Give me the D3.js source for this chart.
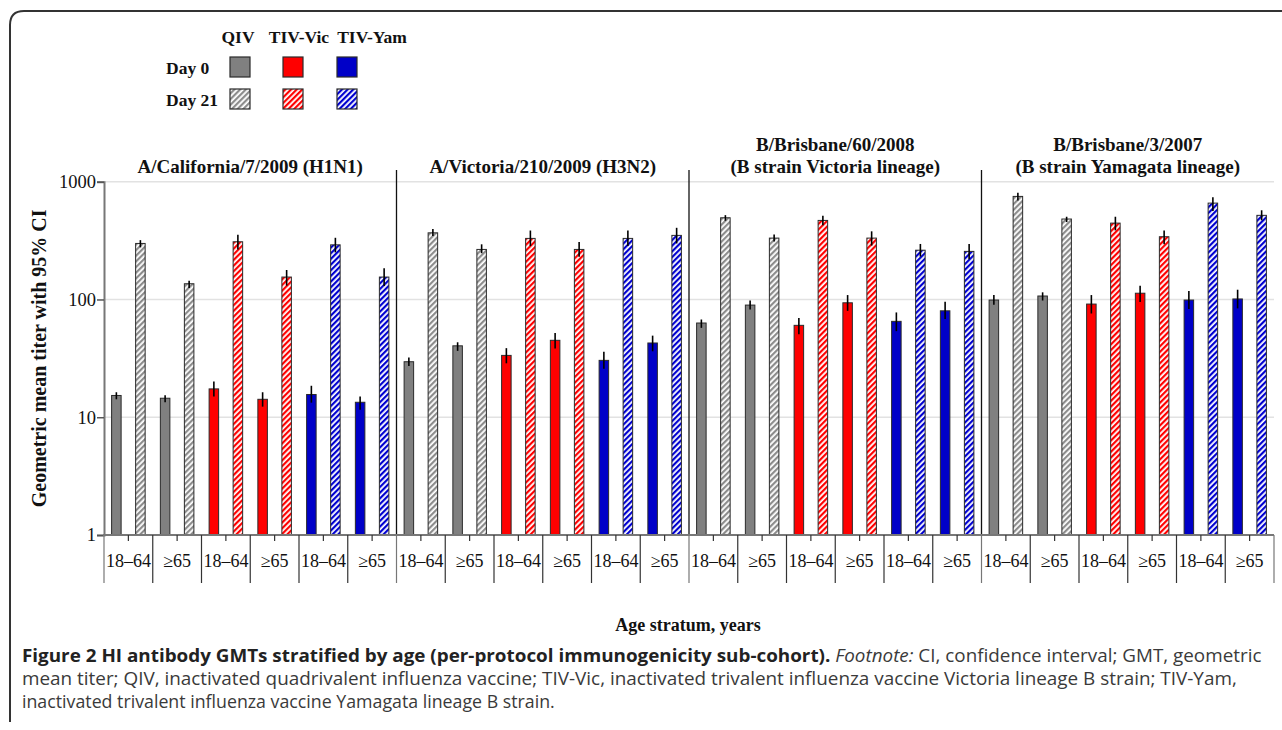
<!DOCTYPE html>
<html>
<head>
<meta charset="utf-8">
<script src="https://cdn.jsdelivr.net/npm/d3@7"></script>
<style>
  html, body { margin: 0; padding: 0; background: #fff; }
  svg { display: block; }
</style>
</head>
<body>
<svg id="chart" width="1282" height="730"></svg>
<script>
// ---------------- DATA ----------------
const strains = [
  ["A/California/7/2009 (H1N1)"],
  ["A/Victoria/210/2009 (H3N2)"],
  ["B/Brisbane/60/2008", "(B strain Victoria lineage)"],
  ["B/Brisbane/3/2007", "(B strain Yamagata lineage)"]
];
const vaccines = ["QIV", "TIV-Vic", "TIV-Yam"];
const ages = ["18\u201364", "\u226565"];
const days = ["Day 0", "Day 21"];
const yTicks = [1, 10, 100, 1000];

// order inside each strain: QIV 18-64, QIV >=65, Vic 18-64, Vic >=65, Yam 18-64, Yam >=65
const day0GMT = [
  [15.3, 14.5, 17.4, 14.2, 15.6, 13.4],
  [29.6, 40.4, 33.5, 45.0, 30.4, 42.7],
  [63.1, 89.6, 60.3, 93.7, 65.2, 80.1],
  [98.9, 107, 91.4, 113, 98.9, 101]
];
const day0Lo = [
  [14.2, 13.4, 15.0, 12.3, 13.3, 11.6],
  [27.2, 36.6, 28.7, 38.3, 25.8, 36.3],
  [57.4, 82, 50.6, 80, 53.8, 68.1],
  [90, 98, 76, 95, 83, 84]
];
const day0Hi = [
  [16.3, 15.4, 20.1, 16.3, 18.5, 15.0],
  [32.2, 43.3, 38.6, 51.9, 35.9, 49.3],
  [67.6, 98, 69.6, 109, 77.6, 95.5],
  [109, 115, 109, 131, 118, 121]
];
const day21GMT = [
  [299, 136, 309, 155, 291, 155],
  [368, 266, 330, 266, 330, 350],
  [494, 332, 469, 332, 262, 256],
  [750, 482, 445, 341, 658, 518]
];
const day21Lo = [
  [277, 125, 265, 131, 251, 130],
  [346, 247, 284, 231, 284, 299],
  [466, 310, 426, 287, 231, 220],
  [691, 454, 386, 294, 564, 470]
];
const day21Hi = [
  [319, 144, 354, 178, 334, 184],
  [396, 294, 385, 307, 385, 406],
  [520, 356, 515, 379, 296, 296],
  [804, 504, 504, 386, 737, 572]
];

const captionLines = [
  [{t: "Figure 2", w: "bold"}, {t: " HI antibody GMTs stratified by age (per-protocol immunogenicity sub-cohort).", w: "bold"}, {t: " Footnote:", s: "italic"}, {t: " CI, confidence interval; GMT, geometric"}],
  [{t: "mean titer; QIV, inactivated quadrivalent influenza vaccine; TIV-Vic, inactivated trivalent influenza vaccine Victoria lineage B strain; TIV-Yam,"}],
  [{t: "inactivated trivalent influenza vaccine Yamagata lineage B strain."}]
];

// ---------------- STYLE ----------------
const fillColors = {"QIV": "#808080", "TIV-Vic": "#ff0000", "TIV-Yam": "#0000c8"};
const hatchColors = {"QIV": "#8c8c8c", "TIV-Vic": "#ff0000", "TIV-Yam": "#0000d0"};
const serif = "'Liberation Serif', 'Times New Roman', serif";
const sans = "'Open Sans', 'Noto Sans', sans-serif";

const svg = d3.select("#chart");

// patterns
const defs = svg.append("defs");
vaccines.forEach((v, i) => {
  const p = defs.append("pattern")
    .attr("id", "hatch" + i)
    .attr("patternUnits", "userSpaceOnUse")
    .attr("width", 4).attr("height", 4)
    .attr("patternTransform", "rotate(45)");
  p.append("rect").attr("width", 4).attr("height", 4).attr("fill", "#fff");
  p.append("rect").attr("width", 2.2).attr("height", 4).attr("fill", hatchColors[v]);
});

// frame
svg.append("path")
  .attr("d", "M10,722 L10,25 Q10,11 24,11 L1282,11")
  .attr("fill", "none").attr("stroke", "#333").attr("stroke-width", 2);

// scales
const x0 = 104, x1 = 1274;
const yBottom = 535, yTop = 181.7;
const y = d3.scaleLog().domain([1, 1000]).range([yBottom, yTop]);
const xPanel = d3.scaleBand().domain(d3.range(strains.length)).range([x0, x1]);
const groupKeys = [];
vaccines.forEach(v => ages.forEach(a => groupKeys.push(v + "|" + a)));
const xGroup = d3.scaleBand().domain(d3.range(groupKeys.length)).range([0, xPanel.bandwidth()]);
const xBar = d3.scaleBand().domain([0, 1]).range([0, xGroup.bandwidth()])
  .paddingInner(0.604).paddingOuter(0.317);

// gridlines
svg.append("g").selectAll("line").data(yTicks.slice(1)).join("line")
  .attr("x1", x0).attr("x2", x1)
  .attr("y1", d => y(d)).attr("y2", d => y(d))
  .attr("stroke", "#e2e2e2").attr("stroke-width", 1.5);

// y axis
const yAxis = d3.axisLeft(y).tickValues(yTicks).tickFormat(d3.format("d")).tickSize(7).tickPadding(1);
const gy = svg.append("g").attr("transform", `translate(${x0},0)`).call(yAxis);
gy.select(".domain").attr("stroke", "#777").attr("stroke-width", 2);
gy.selectAll(".tick line").attr("stroke", "#555").attr("stroke-width", 1.5);
gy.selectAll(".tick text").attr("font-family", serif).attr("font-size", 18.5).attr("fill", "#111");

// y title
svg.append("text")
  .attr("transform", `translate(46,${(yBottom + yTop) / 2 + 0}) rotate(-90)`)
  .attr("text-anchor", "middle")
  .attr("font-family", serif).attr("font-weight", "bold").attr("font-size", 20)
  .attr("fill", "#111")
  .text("Geometric mean titer with 95% CI");

// panel separators
svg.append("g").selectAll("line").data(d3.range(1, strains.length)).join("line")
  .attr("x1", d => xPanel(d)).attr("x2", d => xPanel(d))
  .attr("y1", 170).attr("y2", yBottom)
  .attr("stroke", "#111").attr("stroke-width", 1.3);

// panel titles
strains.forEach((lines, pi) => {
  const cx = xPanel(pi) + xPanel.bandwidth() / 2;
  const t = svg.append("text")
    .attr("text-anchor", "middle")
    .attr("font-family", serif).attr("font-weight", "bold").attr("font-size", 19)
    .attr("fill", "#111");
  const base = 173 - (lines.length - 1) * 22;
  lines.forEach((l, li) => {
    t.append("tspan").attr("x", cx).attr("y", base + li * 22).text(l);
  });
});

// bars
const barData = [];
strains.forEach((s, pi) => {
  groupKeys.forEach((gk, gi) => {
    const vac = gk.split("|")[0];
    const vi = vaccines.indexOf(vac);
    barData.push({pi, gi, day: 0, vac, vi, v: day0GMT[pi][gi], lo: day0Lo[pi][gi], hi: day0Hi[pi][gi]});
    barData.push({pi, gi, day: 1, vac, vi, v: day21GMT[pi][gi], lo: day21Lo[pi][gi], hi: day21Hi[pi][gi]});
  });
});
const bx = d => xPanel(d.pi) + xGroup(d.gi) + xBar(d.day);

svg.append("g").selectAll("rect").data(barData).join("rect")
  .attr("x", d => bx(d))
  .attr("width", xBar.bandwidth())
  .attr("y", d => y(d.v))
  .attr("height", d => yBottom - y(d.v))
  .attr("fill", d => d.day === 0 ? fillColors[d.vac] : `url(#hatch${d.vi})`)
  .attr("stroke", "#2a2a2a").attr("stroke-width", 1);

// error bars
svg.append("g").selectAll("line").data(barData).join("line")
  .attr("x1", d => bx(d) + xBar.bandwidth() / 2)
  .attr("x2", d => bx(d) + xBar.bandwidth() / 2)
  .attr("y1", d => y(d.hi)).attr("y2", d => y(d.lo))
  .attr("stroke", "#000").attr("stroke-width", 1.6);

// bottom axis line
svg.append("line").attr("x1", x0 - 1).attr("x2", x1).attr("y1", yBottom).attr("y2", yBottom)
  .attr("stroke", "#777").attr("stroke-width", 2);

// group separators and mid ticks, labels
const cells = [];
strains.forEach((s, pi) => groupKeys.forEach((gk, gi) => cells.push({pi, gi, age: gk.split("|")[1]})));
const gxs = d => xPanel(d.pi) + xGroup(d.gi);
svg.append("g").selectAll("line").data(cells).join("line")
  .attr("x1", d => gxs(d)).attr("x2", d => gxs(d))
  .attr("y1", yBottom).attr("y2", 583)
  .attr("stroke", d => d.gi === 0 ? "#777" : "#333").attr("stroke-width", 1.2);
svg.append("line").attr("x1", x1).attr("x2", x1).attr("y1", yBottom).attr("y2", 583)
  .attr("stroke", "#777").attr("stroke-width", 1.2);
svg.append("g").selectAll("line").data(cells).join("line")
  .attr("x1", d => gxs(d) + xGroup.bandwidth() / 2).attr("x2", d => gxs(d) + xGroup.bandwidth() / 2)
  .attr("y1", yBottom).attr("y2", yBottom + 6)
  .attr("stroke", "#333").attr("stroke-width", 1.2);
svg.append("g").selectAll("text").data(cells).join("text")
  .attr("x", d => gxs(d) + xGroup.bandwidth() / 2)
  .attr("y", 567)
  .attr("text-anchor", "middle")
  .attr("font-family", serif).attr("font-size", 18).attr("fill", "#111")
  .text(d => d.age);

// x title
svg.append("text").attr("x", 688).attr("y", 631).attr("text-anchor", "middle")
  .attr("font-family", serif).attr("font-weight", "bold").attr("font-size", 18).attr("fill", "#111")
  .text("Age stratum, years");

// legend
const legColX = [238, 299, 372];
const legSqX = [230, 283, 337];
const legRowY = [57, 89];
svg.append("g").selectAll("text").data(vaccines).join("text")
  .attr("x", (d, i) => legColX[i]).attr("y", 43).attr("text-anchor", "middle")
  .attr("font-family", serif).attr("font-weight", "bold").attr("font-size", 17.5).attr("fill", "#111")
  .text(d => d);
svg.append("g").selectAll("text").data(days).join("text")
  .attr("x", 166).attr("y", (d, i) => legRowY[i] + 17).attr("text-anchor", "start")
  .attr("font-family", serif).attr("font-weight", "bold").attr("font-size", 17.5).attr("fill", "#111")
  .text(d => d);
const legItems = [];
days.forEach((d, di) => vaccines.forEach((v, vi) => legItems.push({di, vi, v})));
svg.append("g").selectAll("rect").data(legItems).join("rect")
  .attr("x", d => legSqX[d.vi]).attr("y", d => legRowY[d.di])
  .attr("width", 20).attr("height", 20)
  .attr("fill", d => d.di === 0 ? fillColors[d.v] : `url(#hatch${d.vi})`)
  .attr("stroke", "#2a2a2a").attr("stroke-width", 1.2);

// caption
const capTargets = [[22, 662, 1240], [22, 685, 1216], [22, 708, 533]];
captionLines.forEach((parts, li) => {
  const [cx, cy, tw] = capTargets[li];
  const t = svg.append("text")
    .attr("font-family", sans).attr("font-size", 18).attr("fill", "#333");
  parts.forEach(p => {
    t.append("tspan")
      .attr("font-weight", p.w || "normal")
      .attr("font-style", p.s || "normal")
      .attr("fill", p.w ? "#222" : "#3a3a3a")
      .text(p.t);
  });
  const w = t.node().getComputedTextLength();
  t.attr("transform", `translate(${cx},${cy}) scale(${tw / w},1)`);
});
</script>
</body>
</html>
